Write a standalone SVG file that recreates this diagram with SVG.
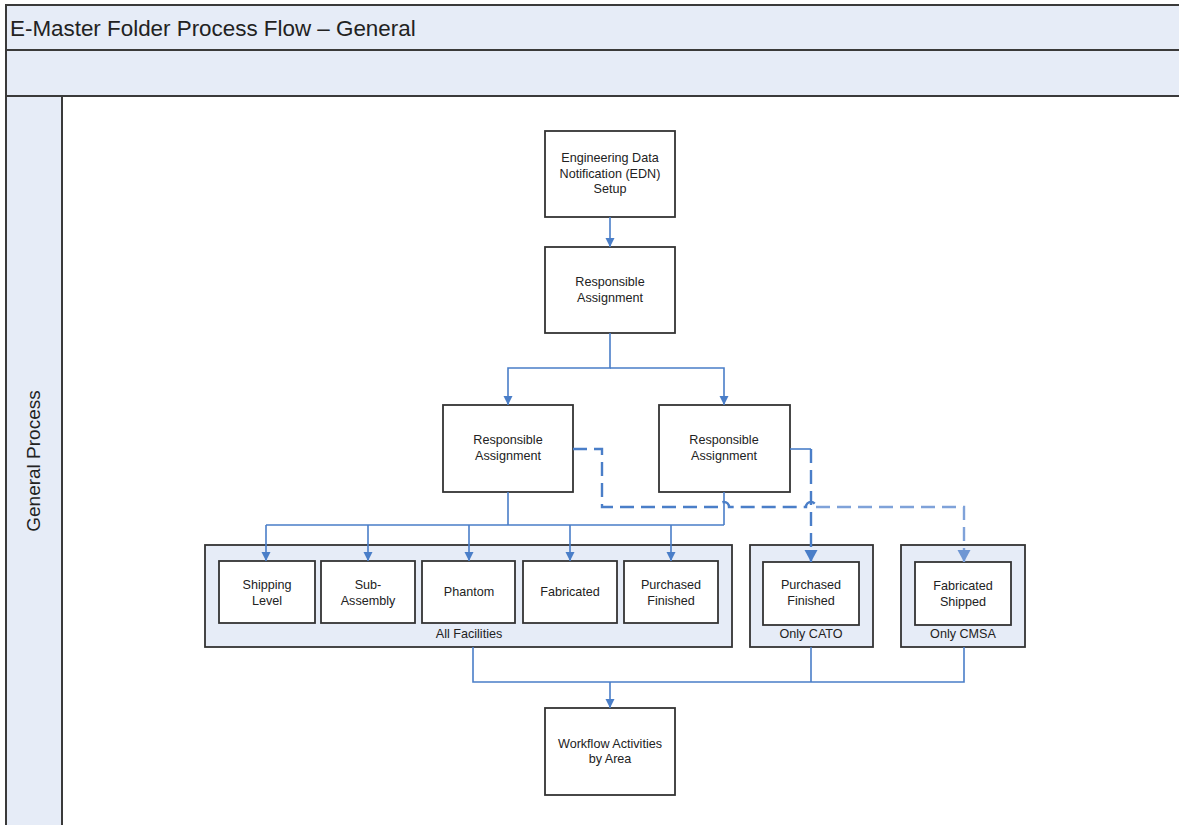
<svg xmlns="http://www.w3.org/2000/svg" width="1179" height="825" viewBox="0 0 1179 825">
  <style>
    .band { fill: #E6ECF7; stroke: none; }
    .frame { stroke: #3A3A3A; stroke-width: 2; fill: none; }
    .box { fill: #FFFFFF; stroke: #333333; stroke-width: 1.8; }
    .group { fill: #E6ECF7; stroke: #333333; stroke-width: 1.8; }
    .lbl { font-family: "Liberation Sans", Arial, sans-serif; font-size: 12.6px; fill: #222222; text-anchor: middle; }
    .title { font-family: "Liberation Sans", Arial, sans-serif; font-size: 22.4px; fill: #222222; }
    .lane { font-family: "Liberation Sans", Arial, sans-serif; font-size: 19px; fill: #222222; text-anchor: middle; }
    .flow { fill: none; stroke: #4A7EC8; stroke-width: 1.6; }
    .dash { fill: none; stroke: #4A7EC8; stroke-width: 2.4; stroke-dasharray: 14 7; }
    .dash-lt { fill: none; stroke: #7FA2D9; stroke-width: 2.4; stroke-dasharray: 14 7; }
  </style>
  <defs>
    <marker id="arr" markerUnits="userSpaceOnUse" markerWidth="10" markerHeight="10" refX="9" refY="5" orient="auto">
      <path d="M0,0.5 L9,5 L0,9.5 Z" fill="#4A7EC8"/>
    </marker>
    <marker id="arrBig" markerUnits="userSpaceOnUse" markerWidth="13" markerHeight="14" refX="12" refY="7" orient="auto">
      <path d="M0,0.5 L12,7 L0,13.5 Z" fill="#4A7EC8"/>
    </marker>
    <marker id="arrBigLt" markerUnits="userSpaceOnUse" markerWidth="13" markerHeight="14" refX="12" refY="7" orient="auto">
      <path d="M0,0.5 L12,7 L0,13.5 Z" fill="#6E96D3"/>
    </marker>
  </defs>

  <rect width="1179" height="825" fill="#FFFFFF"/>

  <!-- pool header and lane -->
  <g id="pool">
    <rect class="band" x="6" y="5" width="1173" height="91"/>
    <rect class="band" x="6" y="96" width="56" height="729"/>
    <path class="frame" d="M1179 5 H6 V825 M6 50 H1179 M6 96 H1179 M62 96 V825"/>
    <text class="title" x="10" y="36">E-Master Folder Process Flow – General</text>
    <text class="lane" transform="translate(40 461) rotate(-90)">General Process</text>
  </g>

  <g id="edn-setup">
    <rect class="box" x="545" y="131" width="130" height="86"/>
    <text class="lbl" x="610" y="162">Engineering Data</text>
    <text class="lbl" x="610" y="178">Notification (EDN)</text>
    <text class="lbl" x="610" y="193">Setup</text>
  </g>

  <g id="responsible-assignment">
    <rect class="box" x="545" y="247" width="130" height="86"/>
    <text class="lbl" x="610" y="286">Responsible</text>
    <text class="lbl" x="610" y="302">Assignment</text>
  </g>

  <g id="responsible-assignment-left">
    <rect class="box" x="443" y="405" width="130" height="87"/>
    <text class="lbl" x="508" y="444">Responsible</text>
    <text class="lbl" x="508" y="460">Assignment</text>
  </g>

  <g id="responsible-assignment-right">
    <rect class="box" x="659" y="405" width="131" height="87"/>
    <text class="lbl" x="724" y="444">Responsible</text>
    <text class="lbl" x="724" y="460">Assignment</text>
  </g>

  <g id="all-facilities">
    <rect class="group" x="205" y="545" width="527" height="102"/>
    <text class="lbl" x="469" y="638">All Facilities</text>
  </g>

  <g id="shipping-level">
    <rect class="box" x="219" y="561" width="96" height="62"/>
    <text class="lbl" x="267" y="589">Shipping</text>
    <text class="lbl" x="267" y="605">Level</text>
  </g>

  <g id="sub-assembly">
    <rect class="box" x="321" y="561" width="94" height="62"/>
    <text class="lbl" x="368" y="589">Sub-</text>
    <text class="lbl" x="368" y="605">Assembly</text>
  </g>

  <g id="phantom">
    <rect class="box" x="422" y="561" width="93" height="62"/>
    <text class="lbl" x="469" y="596">Phantom</text>
  </g>

  <g id="fabricated">
    <rect class="box" x="523" y="561" width="94" height="62"/>
    <text class="lbl" x="570" y="596">Fabricated</text>
  </g>

  <g id="purchased-finished">
    <rect class="box" x="624" y="561" width="94" height="62"/>
    <text class="lbl" x="671" y="589">Purchased</text>
    <text class="lbl" x="671" y="605">Finished</text>
  </g>

  <g id="only-cato">
    <rect class="group" x="750" y="545" width="123" height="102"/>
    <rect class="box" x="763" y="562" width="96" height="63"/>
    <text class="lbl" x="811" y="589">Purchased</text>
    <text class="lbl" x="811" y="605">Finished</text>
    <text class="lbl" x="811" y="638">Only CATO</text>
  </g>

  <g id="only-cmsa">
    <rect class="group" x="901" y="545" width="124" height="102"/>
    <rect class="box" x="915" y="562" width="96" height="63"/>
    <text class="lbl" x="963" y="590">Fabricated</text>
    <text class="lbl" x="963" y="606">Shipped</text>
    <text class="lbl" x="963" y="638">Only CMSA</text>
  </g>

  <g id="workflow-activities">
    <rect class="box" x="545" y="708" width="130" height="87"/>
    <text class="lbl" x="610" y="748">Workflow Activities</text>
    <text class="lbl" x="610" y="763">by Area</text>
  </g>

  <!-- connectors, drawn last so they pass over the group panels -->
  <g id="connectors">
    <path class="flow" d="M610 217 V247" marker-end="url(#arr)"/>
    <path class="flow" d="M610 333 V368 H508 V405" marker-end="url(#arr)"/>
    <path class="flow" d="M610 368 H724 V405" marker-end="url(#arr)"/>
    <path class="flow" d="M508 492 V525 M724 492 V525 M266 525 H724"/>
    <path class="flow" d="M266 525 V561" marker-end="url(#arr)"/>
    <path class="flow" d="M368 525 V561" marker-end="url(#arr)"/>
    <path class="flow" d="M469 525 V561" marker-end="url(#arr)"/>
    <path class="flow" d="M570 525 V561" marker-end="url(#arr)"/>
    <path class="flow" d="M671 525 V561" marker-end="url(#arr)"/>
    <path class="flow" d="M473 647 V682 H964 V647 M811 647 V682"/>
    <path class="flow" d="M610 682 V708" marker-end="url(#arr)"/>
    <!-- dashed alternate routes -->
    <path class="dash" d="M573 449 H602 V507 H719 A5 5 0 0 1 729 507 H806 A5 5 0 0 1 816 507"/>
    <path class="dash-lt" d="M816 507 H964 V562" marker-end="url(#arrBigLt)"/>
    <path class="flow" d="M790 449 H811"/>
    <path class="dash" d="M811 449 V562" marker-end="url(#arrBig)"/>
  </g>
</svg>
